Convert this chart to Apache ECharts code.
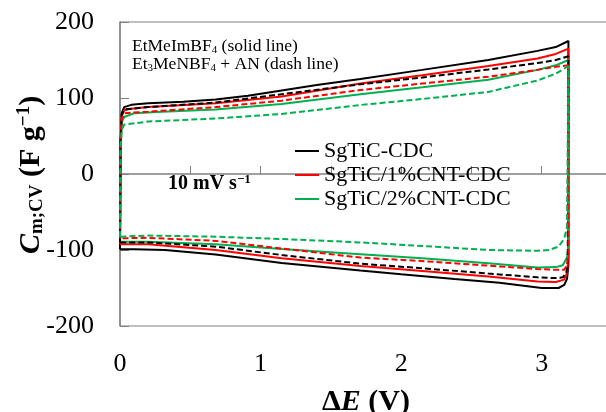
<!DOCTYPE html>
<html>
<head>
<meta charset="utf-8">
<script src="https://cdn.jsdelivr.net/npm/echarts@6/dist/echarts.min.js"></script>
<style>
html,body{margin:0;padding:0;background:#fff;}
#chart{width:606px;height:412px;}
</style>
</head>
<body>
<div id="chart"></div>
<script>
// ---- Data: [ΔE (V), C (F g^-1)] ----
// EtMeImBF4 (solid line)
var sgSolidUpper = [[0,-99],[0.004,40],[0.012,80],[0.03,88],[0.08,91],[0.2,93],[0.45,95],[0.68,98],[0.91,103],[1.15,110],[1.4,117],[1.71,125],[2.15,137],[2.62,150],[2.97,162],[3.1,167],[3.19,175]];
var sgSolidLower = [[3.19,-120],[3.18,-138],[3.16,-146],[3.12,-150],[3.0,-150],[2.7,-143],[2.38,-138],[2.0,-132],[1.71,-127],[1.15,-117],[0.68,-106],[0.32,-100],[0.1,-99],[0,-99]];
var cnt1SolidUpper = [[0,-92],[0.004,40],[0.012,76],[0.03,84],[0.08,86],[0.2,88],[0.68,93],[1.15,102],[1.71,119],[2.15,130],[2.62,142],[2.97,152],[3.1,158],[3.19,165]];
var cnt1SolidLower = [[3.19,-110],[3.18,-130],[3.16,-139],[3.1,-142],[2.97,-141.5],[2.62,-135],[2.15,-127.5],[1.71,-121],[1.15,-111],[0.68,-100],[0.2,-92.5],[0,-92.5]];
var cnt2SolidUpper = [[0,-89],[0.004,30],[0.012,68],[0.03,75],[0.1,80],[0.3,82],[0.68,85],[1.15,92],[1.71,105],[2.15,114],[2.62,124],[2.97,137],[3.1,143],[3.19,150]];
var cnt2SolidLower = [[3.19,-95],[3.18,-110],[3.15,-120],[3.1,-122.5],[2.97,-123],[2.62,-117.5],[2.15,-111],[1.71,-105.5],[1.15,-98.7],[0.68,-92.5],[0.2,-89],[0,-89]];
// Et3MeNBF4 + AN (dash line)
var sgDashUpper = [[0,-90],[0.004,40],[0.012,78],[0.03,85],[0.2,88],[0.68,94],[1.15,105],[1.71,118],[2.15,127],[2.62,137.5],[2.97,146],[3.1,150],[3.19,155]];
var sgDashLower = [[3.185,-115],[3.175,-130],[3.15,-136],[3.1,-137],[2.97,-136],[2.62,-131],[2.15,-124],[1.71,-118],[1.15,-106.6],[0.68,-95.6],[0.2,-90],[0,-90]];
var cnt1DashUpper = [[0,-84.6],[0.004,40],[0.012,72],[0.03,80],[0.2,82],[0.68,88],[1.15,96.5],[1.71,110.5],[2.15,119],[2.62,128],[2.97,137],[3.1,141],[3.19,143]];
var cnt1DashLower = [[3.19,-105],[3.18,-120],[3.16,-126],[3.1,-126],[2.97,-125],[2.62,-120.6],[2.15,-114.5],[1.71,-110],[1.15,-98],[0.68,-88],[0.2,-84],[0,-84.6]];
var cnt2DashUpper = [[0,-82.5],[0.004,30],[0.012,58],[0.03,65],[0.2,69],[0.68,73],[1.15,79],[1.71,90.8],[2.15,98.7],[2.62,108],[2.97,123],[3.1,132],[3.19,142]];
var cnt2DashLower = [[3.18,-70],[3.16,-85],[3.12,-95.6],[3.05,-100],[2.97,-101],[2.62,-100],[2.15,-94.7],[1.71,-90],[1.15,-85.5],[0.68,-82.5],[0.2,-81],[0,-82.5]];

var legendNames = ['SgTiC-CDC','SgTiC/1%CNT-CDC','SgTiC/2%CNT-CDC'];
var colors = ['#000000','#ff0000','#00b050'];
var xTicks = [0,1,2,3];

var font = 'Liberation Serif, Times New Roman, serif';

function mk(name, up, low, color, dashed){
  return {
    name: name, type: 'line', data: up.concat(low), symbol: 'none', smooth: false,
    animation: false, clip: true,
    lineStyle: {color: color, width: 2, type: dashed ? [6,3] : 'solid'},
    itemStyle: {color: color}
  };
}

var chart = echarts.init(document.getElementById('chart'), null, {renderer:'canvas'});
chart.setOption({
  animation: false,
  backgroundColor: '#fff',
  grid: {left: 120, top: 22, width: 492, height: 304, outerBoundsMode: 'none', containLabel: false,
         show: true, borderColor: '#808080', borderWidth: 1, backgroundColor: 'transparent'},
  xAxis: {
    type: 'value', min: 0, max: 3.5, interval: 0.5,
    axisLine: {show: true, lineStyle: {color: '#808080', width: 1.5}},
    axisTick: {show: true, inside: true, length: 8, lineStyle: {color: '#808080'}},
    splitLine: {show: false},
    axisLabel: {color: '#000', fontFamily: font, fontSize: 26, margin: 25,
      formatter: function(v){ return xTicks.indexOf(v) >= 0 ? String(v) : ''; }}
  },
  yAxis: {
    type: 'value', min: -200, max: 200, interval: 100,
    axisLine: {show: true, lineStyle: {color: '#808080', width: 1.5}},
    axisTick: {show: true, inside: true, length: 9, lineStyle: {color: '#808080'}},
    splitLine: {show: false},
    axisLabel: {color: '#000', fontFamily: font, fontSize: 26, margin: 26}
  },
  legend: {
    data: legendNames, orient: 'vertical', left: 290, top: 135,
    icon: 'rect', itemWidth: 24, itemHeight: 2, itemGap: 2,
    textStyle: {fontFamily: font, fontSize: 22, color: '#000', lineHeight: 22}
  },
  series: [
    mk(legendNames[0], sgSolidUpper, sgSolidLower, colors[0], false),
    mk(legendNames[1], cnt1SolidUpper, cnt1SolidLower, colors[1], false),
    mk(legendNames[2], cnt2SolidUpper, cnt2SolidLower, colors[2], false),
    mk('SgTiC-CDC (AN)', sgDashUpper, sgDashLower, colors[0], true),
    mk('SgTiC/1%CNT-CDC (AN)', cnt1DashUpper, cnt1DashLower, colors[1], true),
    mk('SgTiC/2%CNT-CDC (AN)', cnt2DashUpper, cnt2DashLower, colors[2], true)
  ],
  graphic: [
    {type: 'text', left: 132, top: 37, silent: true, style: {
      text: '{a|EtMeImBF}{s|4}{a| (solid line)}',
      rich: {a: {fontFamily: font, fontSize: 17.5, lineHeight: 20, fill: '#000'},
             s: {fontFamily: font, fontSize: 11, lineHeight: 11, verticalAlign: 'bottom', fill: '#000'}}
    }},
    {type: 'text', left: 132, top: 55, silent: true, style: {
      text: '{a|Et}{s|3}{a|MeNBF}{s|4}{a| + AN (dash line)}',
      rich: {a: {fontFamily: font, fontSize: 17.5, lineHeight: 20, fill: '#000'},
             s: {fontFamily: font, fontSize: 11, lineHeight: 11, verticalAlign: 'bottom', fill: '#000'}}
    }},
    {type: 'text', x: 168, y: 184, silent: true, style: {
      text: '{a|10 mV s}{p|\u22121}',
      verticalAlign: 'middle',
      rich: {a: {fontFamily: font, fontSize: 20, fontWeight: 'bold', lineHeight: 22, fill: '#000'},
             p: {fontFamily: font, fontSize: 13, fontWeight: 'bold', lineHeight: 13, verticalAlign: 'top', fill: '#000'}}
    }},
    {type: 'text', x: 366, y: 402, silent: true, style: {
      text: '{a|\u0394}{i|E}{a| (V)}',
      align: 'center', verticalAlign: 'middle',
      rich: {a: {fontFamily: font, fontSize: 30, fontWeight: 'bold', lineHeight: 32, fill: '#000'},
             i: {fontFamily: font, fontSize: 30, fontWeight: 'bold', fontStyle: 'italic', lineHeight: 32, fill: '#000'}}
    }},
    {type: 'text', x: 31, y: 175, rotation: Math.PI / 2, silent: true, style: {
      text: '{i|C}{s|m;CV}{a| (F g}{p|\u22121}{a|)}',
      align: 'center', verticalAlign: 'middle',
      rich: {a: {fontFamily: font, fontSize: 30, fontWeight: 'bold', lineHeight: 32, fill: '#000'},
             i: {fontFamily: font, fontSize: 30, fontWeight: 'bold', fontStyle: 'italic', lineHeight: 32, fill: '#000'},
             s: {fontFamily: font, fontSize: 19, fontWeight: 'bold', lineHeight: 19, verticalAlign: 'bottom', fill: '#000'},
             p: {fontFamily: font, fontSize: 19, fontWeight: 'bold', lineHeight: 19, verticalAlign: 'top', fill: '#000'}}
    }}
  ]
});
</script>
</body>
</html>
